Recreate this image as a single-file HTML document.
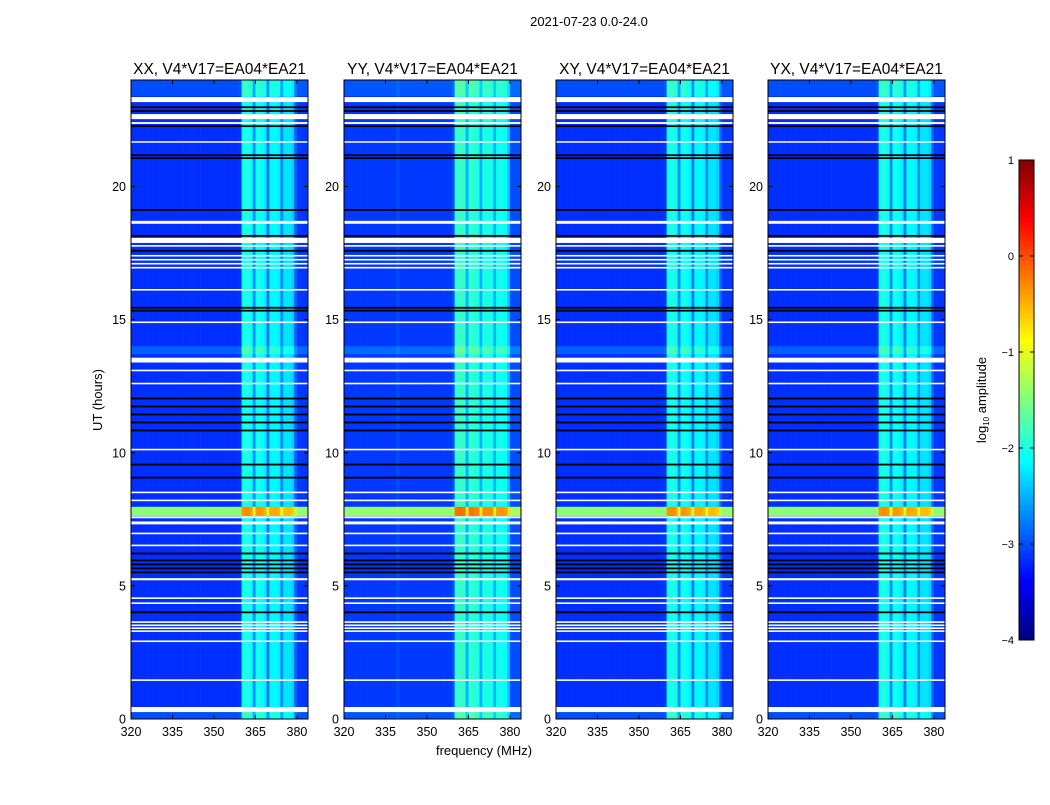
<!DOCTYPE html>
<html><head><meta charset="utf-8"><style>
body{margin:0;background:#fff;}
svg text{font-family:"Liberation Sans","DejaVu Sans",sans-serif;fill:#000;}
</style></head><body>
<svg id="fig" width="1050" height="800" viewBox="0 0 1050 800">
<rect width="1050" height="800" fill="#fff"/>
<text x="589" y="26" font-size="13" text-anchor="middle">2021-07-23 0.0-24.0</text>
<text x="0" y="0" font-size="13" text-anchor="middle" transform="translate(102,400) rotate(-90)">UT (hours)</text>
<text x="484" y="755" font-size="13" text-anchor="middle">frequency (MHz)</text>
<g id="panels"></g>
<g id="cbar"></g>
<text x="0" y="0" font-size="13" text-anchor="middle" transform="translate(986,400) rotate(-90)">log<tspan font-size="8" dy="3">10</tspan><tspan dy="-3"> amplitude</tspan></text>
</svg>
<script>
// ---- data ----
const panelTitles = ["XX, V4*V17=EA04*EA21","YY, V4*V17=EA04*EA21","XY, V4*V17=EA04*EA21","YX, V4*V17=EA04*EA21"];
const freqTicks = [320,335,350,365,380];
const timeTicks = [0,5,10,15,20];
const cbarTicks = [-4,-3,-2,-1,0,1];
// per-channel (1 MHz, 320..384) log10 amplitude levels
const chanXX = [-3.15,-3.15,-3.15,-3.15,-3.15,-3.15,-3.15,-3.15,-3.15,-3.15,-3.15,-3.15,-3.15,-3.15,-3.15,-3.15,-3.15,-3.15,-3.15,-3.15,-3.15,-3.15,-3.15,-3.15,-3.15,-3.15,-3.15,-3.15,-3.15,-3.15,-3.15,-3.15,-3.15,-3.15,-3.15,-3.15,-3.15,-3.15,-3.15,-3.1,-2.05,-2.0,-2.0,-2.1,-2.7,-2.05,-2.05,-2.1,-2.2,-2.8,-2.15,-2.15,-2.15,-2.2,-2.7,-2.25,-2.25,-2.25,-2.35,-2.9,-3.1,-3.1,-3.1,-3.1];
const chanYY = [-3.1,-3.1,-3.1,-3.1,-3.1,-3.1,-3.1,-3.1,-3.1,-3.1,-3.1,-3.1,-3.1,-3.1,-3.1,-3.1,-3.1,-3.1,-3.1,-3.0,-3.1,-3.1,-3.1,-3.1,-3.1,-3.1,-3.1,-3.1,-3.1,-3.1,-3.1,-3.1,-3.1,-3.1,-3.1,-3.1,-3.1,-3.1,-3.1,-3.0,-1.9,-1.85,-1.85,-1.9,-2.5,-1.9,-1.9,-1.95,-2.0,-2.5,-2.0,-2.0,-2.0,-2.05,-2.5,-2.05,-2.05,-2.05,-2.1,-2.4,-3.0,-3.0,-3.0,-3.0];
const chanXY = [-3.15,-3.15,-3.15,-3.15,-3.15,-3.15,-3.15,-3.15,-3.15,-3.15,-3.15,-3.15,-3.15,-3.15,-3.15,-3.15,-3.15,-3.15,-3.15,-3.15,-3.15,-3.15,-3.15,-3.15,-3.15,-3.15,-3.15,-3.15,-3.15,-3.15,-3.15,-3.15,-3.15,-3.15,-3.15,-3.15,-3.15,-3.15,-3.15,-3.1,-2.05,-2.0,-2.0,-2.1,-2.7,-2.05,-2.05,-2.1,-2.2,-2.8,-2.15,-2.15,-2.15,-2.2,-2.7,-2.25,-2.25,-2.25,-2.35,-2.9,-3.1,-3.1,-3.1,-3.1];
const chanYX = [-3.15,-3.15,-3.15,-3.15,-3.15,-3.15,-3.15,-3.15,-3.15,-3.15,-3.15,-3.15,-3.15,-3.15,-3.15,-3.15,-3.15,-3.15,-3.15,-3.15,-3.15,-3.15,-3.15,-3.15,-3.15,-3.15,-3.15,-3.15,-3.15,-3.15,-3.15,-3.15,-3.15,-3.15,-3.15,-3.15,-3.15,-3.15,-3.15,-3.1,-2.05,-2.0,-2.0,-2.1,-2.7,-2.05,-2.05,-2.1,-2.2,-2.8,-2.15,-2.15,-2.15,-2.2,-2.7,-2.25,-2.25,-2.25,-2.35,-2.9,-3.1,-3.1,-3.1,-3.1];
const panelChans = [chanXX, chanYY, chanXY, chanYX];
// time segments with brightness boost [startHour, endHour, add]
const boostStart = [7.62, 23.4, 13.7, 0.0];
const boostEnd   = [7.97, 24.0, 14.0, 0.3];
const boostAdd   = [1.7, 0.15, 0.25, 0.15];
// flagged (white) time ranges
const flagStart = [23.17,22.53,22.35,21.65,18.6,17.88,17.74,17.37,17.22,17.07,16.92,16.09,14.87,13.39,13.06,12.57,10.09,8.48,8.18,7.54,7.31,6.94,6.49,5.21,4.51,4.32,3.61,3.49,3.38,3.27,2.89,1.43,0.26];
const flagEnd   = [23.36,22.72,22.42,21.7,18.71,18.07,17.8,17.43,17.28,17.13,16.98,16.15,14.93,13.57,13.12,12.63,10.15,8.54,8.24,7.61,7.42,7.0,6.55,5.29,4.57,4.38,3.67,3.55,3.44,3.33,2.95,1.49,0.45];
// black gap lines (hours)
const gapTimes = [22.98,22.84,22.27,21.18,21.07,19.12,18.15,17.59,15.45,15.34,12.04,11.74,11.44,11.14,10.84,9.56,9.07,6.22,5.96,5.81,5.66,5.51,4.01];

// ---- layout ----
const panelX = [131,344,556,768], PW = 177, PT = 80, PB = 719;
const F0 = 320, F1 = 384, T0 = 0, T1 = 24, VMIN = -4, VMAX = 1;
const NS = "http://www.w3.org/2000/svg";
function mk(tag, attrs, parent){const e=document.createElementNS(NS,tag);for(const k in attrs)e.setAttribute(k,attrs[k]);parent.appendChild(e);return e;}
function jet(v){let t=(v-VMIN)/(VMAX-VMIN);t=Math.max(0,Math.min(1,t));
  const r=Math.max(0,Math.min(1,1.5-Math.abs(4*t-3))),g=Math.max(0,Math.min(1,1.5-Math.abs(4*t-2))),b=Math.max(0,Math.min(1,1.5-Math.abs(4*t-1)));
  return `rgb(${Math.round(r*255)},${Math.round(g*255)},${Math.round(b*255)})`;}
const yT = h => PB - (h-T0)/(T1-T0)*(PB-PT);
const panels = document.getElementById('panels');
panelTitles.forEach((title,p)=>{
  const x0 = panelX[p];
  const xF = f => x0 + (f-F0)/(F1-F0)*PW;
  const g = mk('g',{},panels);
  
  
  const chans = panelChans[p];
  const hm = mk('g',{},g);
  
  
  chans.forEach((v,i)=>{
    const r = mk('rect',{x:xF(F0+i),y:PT,width:xF(F0+i+1)-xF(F0+i)+0.3,height:PB-PT,fill:jet(v)},hm);
    
    
  });
  boostStart.forEach((s,k)=>{
    chans.forEach((v,i)=>{
      const r = mk('rect',{x:xF(F0+i),y:yT(boostEnd[k]),width:xF(F0+i+1)-xF(F0+i)+0.3,height:yT(s)-yT(boostEnd[k]),fill:jet(v+boostAdd[k])},hm);
      
      
    });
  });
  flagStart.forEach((s,k)=>{
    const r = mk('rect',{x:x0,y:yT(flagEnd[k]),width:PW,height:Math.max(1.5,yT(s)-yT(flagEnd[k])),fill:'#fff'},g);
    
    
  });
  gapTimes.forEach(t=>{
    const r = mk('rect',{x:x0,y:yT(t)-0.8,width:PW,height:1.8,fill:'#000'},g);
    
    
  });
  const fr = mk('rect',{x:x0,y:PT,width:PW,height:PB-PT,fill:'none',stroke:'#000','stroke-width':1},g);
  
  
  const tt = mk('text',{x:x0+PW/2,y:PT-6,'font-size':'15.5','text-anchor':'middle'},g);
  tt.textContent = title;
  
  
  freqTicks.forEach(f=>{
    const x = xF(f);
    mk('line',{x1:x,x2:x,y1:PB,y2:PB-4,stroke:'#000'},g);
    mk('line',{x1:x,x2:x,y1:PT,y2:PT+4,stroke:'#000'},g);
    const t = mk('text',{x:x,y:PB+17,'font-size':'12.5','text-anchor':'middle'},g);
    t.textContent = f;
    
    
  });
  timeTicks.forEach(h=>{
    const y = yT(h);
    mk('line',{x1:x0,x2:x0+4,y1:y,y2:y,stroke:'#000'},g);
    mk('line',{x1:x0+PW,x2:x0+PW-4,y1:y,y2:y,stroke:'#000'},g);
    const t = mk('text',{x:x0-5,y:y+4.5,'font-size':'12.5','text-anchor':'end'},g);
    t.textContent = h;
    
    
  });
});
// colorbar
const cb = document.getElementById('cbar');
const CX=1019, CW=15, CT=160, CB=640;
const yC = v => CB - (v-VMIN)/(VMAX-VMIN)*(CB-CT);
for(let i=0;i<100;i++){
  const v0 = VMIN + (VMAX-VMIN)*i/100, v1 = VMIN + (VMAX-VMIN)*(i+1)/100;
  mk('rect',{x:CX,y:yC(v1),width:CW,height:yC(v0)-yC(v1)+0.5,fill:jet((v0+v1)/2)},cb);
}
mk('rect',{x:CX,y:CT,width:CW,height:CB-CT,fill:'none',stroke:'#000'},cb);
cbarTicks.forEach(v=>{
  const y=yC(v);
  mk('line',{x1:CX,x2:CX+4,y1:y,y2:y,stroke:'#000'},cb);
  mk('line',{x1:CX+CW,x2:CX+CW-4,y1:y,y2:y,stroke:'#000'},cb);
  const t = mk('text',{x:CX-5,y:y+4,'font-size':'11','text-anchor':'end'},cb);
  t.textContent = v<0 ? '\u2212'+Math.abs(v) : String(v);
  
  
});
</script>
</body></html>
